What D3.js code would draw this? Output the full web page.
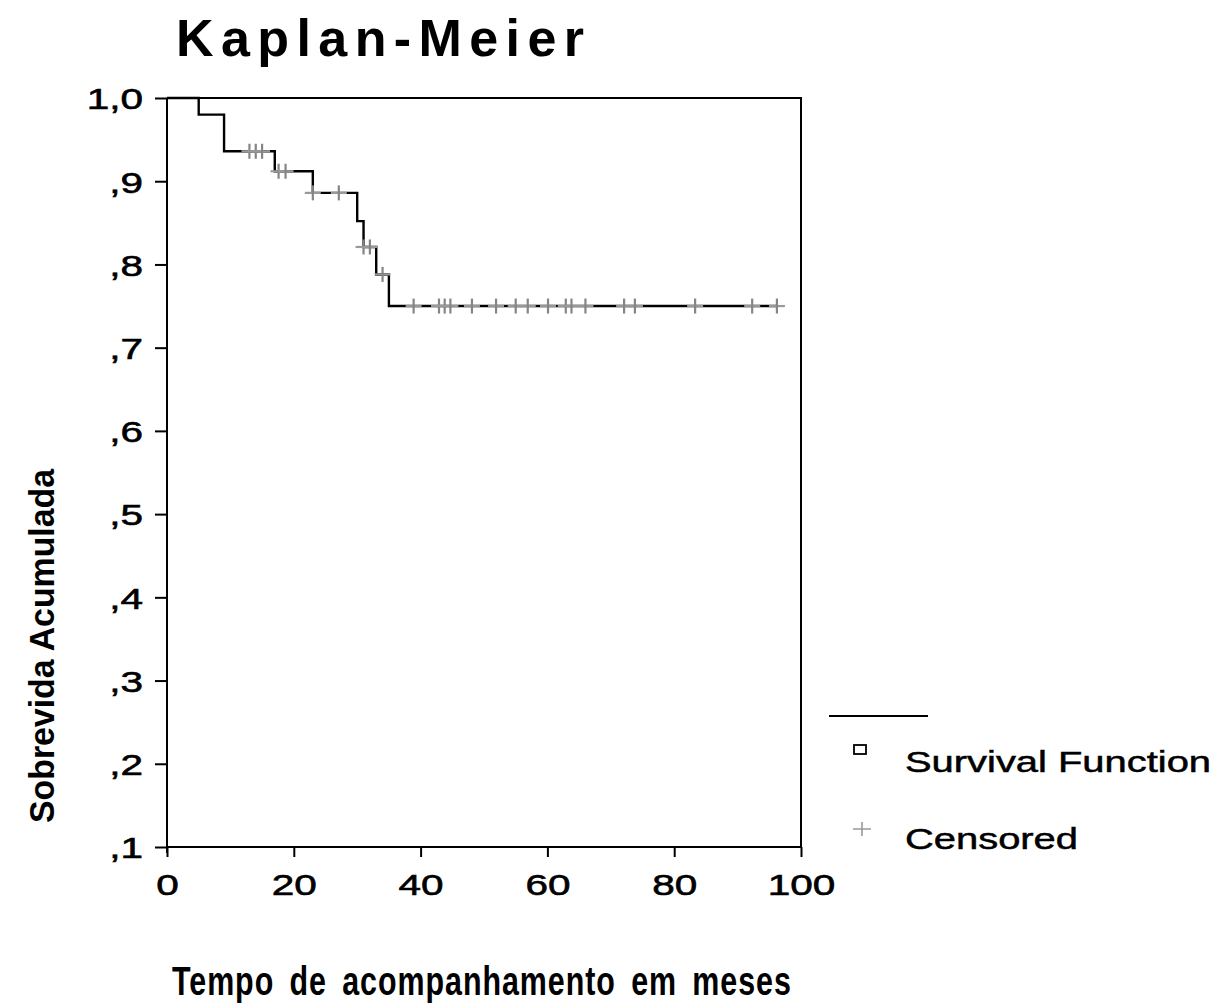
<!DOCTYPE html>
<html>
<head>
<meta charset="utf-8">
<script src="https://cdn.jsdelivr.net/npm/d3@7"></script>
<style>
  html, body { margin: 0; padding: 0; background: #fff; }
  svg { display: block; }
  text { font-family: "Liberation Sans", Arial, sans-serif; fill: #000; }
</style>
</head>
<body>
<svg id="chart" width="1223" height="1007"></svg>
<script>
// ---- data ----
const eventTimes = [0, 5, 9, 17, 23, 30, 31, 33, 35];
const survival   = [1.0, 0.980, 0.936, 0.912, 0.886, 0.852, 0.821, 0.788, 0.750];
const lastTime = 96.2;

const censorTimes = [13, 14, 15, 17.6, 18.7, 23, 27.1, 31, 32, 34,
  38.9, 42.9, 43.8, 44.7, 48.1, 51.9, 55.0, 56.9, 60.1, 62.9, 63.8, 66.0,
  72.1, 73.8, 83.3, 92.3, 96.2];
const censorSurv = [0.936, 0.936, 0.936, 0.912, 0.912, 0.886, 0.886, 0.821, 0.821, 0.788,
  0.75, 0.75, 0.75, 0.75, 0.75, 0.75, 0.75, 0.75, 0.75, 0.75, 0.75, 0.75,
  0.75, 0.75, 0.75, 0.75, 0.75];

const xTicks = [0, 20, 40, 60, 80, 100];
const xTickLabels = ["0", "20", "40", "60", "80", "100"];
const yTicks = [0.1, 0.2, 0.3, 0.4, 0.5, 0.6, 0.7, 0.8, 0.9, 1.0];
const yTickLabels = [",1", ",2", ",3", ",4", ",5", ",6", ",7", ",8", ",9", "1,0"];

const titleText = "Kaplan-Meier";
const xTitle = "Tempo de acompanhamento em meses";
const yTitle = "Sobrevida Acumulada";
const legendLabels = ["Survival Function", "Censored"];

// ---- layout ----
const svg = d3.select("#chart");
const L = 167, R = 801, T = 98, B = 847;
const STRETCH = 1.35;

const x = d3.scaleLinear().domain([0, 100]).range([L, R]);
const y = d3.scaleLinear().domain([0.1, 1.0]).range([B, T]);

function stretch(sel, factor) {
  sel.each(function() {
    const len = this.getComputedTextLength();
    d3.select(this).attr("textLength", len * factor).attr("lengthAdjust", "spacingAndGlyphs");
  });
}

// frame (top and right)
svg.append("path")
  .attr("d", `M${L},${T}H${R}V${B}`)
  .attr("fill", "none").attr("stroke", "#000").attr("stroke-width", 2);

// y axis
const yAxis = svg.append("g").attr("transform", `translate(${L},0)`)
  .call(d3.axisLeft(y).tickValues(yTicks).tickSize(12).tickPadding(12)
    .tickFormat((d, i) => yTickLabels[i]));
yAxis.select(".domain").attr("stroke", "#000").attr("stroke-width", 2)
  .attr("d", `M0,${T}V${B + 6}`);
yAxis.selectAll(".tick line").attr("stroke", "#000").attr("stroke-width", 2);
yAxis.selectAll(".tick text").attr("font-size", 30).attr("dy", "0.36em")
  .style("font-family", "Liberation Sans, Arial, sans-serif").attr("fill", "#000")
  .attr("stroke", "#000").attr("stroke-width", 0.6)
  .call(stretch, STRETCH);

// x axis
const xAxis = svg.append("g").attr("transform", `translate(0,${B})`)
  .call(d3.axisBottom(x).tickValues(xTicks).tickSize(10).tickPadding(17)
    .tickFormat((d, i) => xTickLabels[i]));
xAxis.select(".domain").attr("stroke", "#000").attr("stroke-width", 2)
  .attr("d", `M${L},0H${R}`);
xAxis.selectAll(".tick line").attr("stroke", "#000").attr("stroke-width", 2);
xAxis.selectAll(".tick text").attr("font-size", 30).attr("dy", "0.71em")
  .style("font-family", "Liberation Sans, Arial, sans-serif").attr("fill", "#000")
  .attr("stroke", "#000").attr("stroke-width", 0.6)
  .call(stretch, STRETCH);

// survival step line
const pts = eventTimes.map((t, i) => [t, survival[i]]);
pts.push([lastTime, survival[survival.length - 1]]);
svg.append("path")
  .attr("d", d3.line().x(d => x(d[0])).y(d => y(d[1])).curve(d3.curveStepAfter)(pts))
  .attr("fill", "none").attr("stroke", "#000").attr("stroke-width", 2.4);

// censored marks
const cg = svg.append("g");
censorTimes.forEach((t, i) => {
  const cx = x(t), cy = y(censorSurv[i]);
  cg.append("path").attr("d", `M${cx - 8},${cy}H${cx + 8}`)
    .attr("stroke", "#999").attr("stroke-width", 2.2);
  cg.append("path").attr("d", `M${cx},${cy - 7.5}V${cy + 7.5}`)
    .attr("stroke", "#858585").attr("stroke-width", 2.2);
});

// title
svg.append("text").attr("x", 176).attr("y", 56)
  .attr("font-size", 52).attr("font-weight", "bold")
  .attr("textLength", 408).attr("lengthAdjust", "spacing")
  .text(titleText);

// x title: condensed glyphs with letter spacing, fitted to the measured width
const xt = svg.append("text")
  .attr("font-size", 41).attr("font-weight", "bold")
  .style("letter-spacing", "1.3px").style("word-spacing", "8px")
  .text(xTitle);
const xtw = xt.node().getBBox().width;
xt.attr("transform", `translate(172,995) scale(${620 / xtw},1)`);

// y title
svg.append("text").attr("transform", "translate(54,646) rotate(-90)")
  .attr("text-anchor", "middle")
  .attr("font-size", 35).attr("font-weight", "bold")
  .attr("textLength", 354).attr("lengthAdjust", "spacingAndGlyphs")
  .text(yTitle);

// legend
svg.append("line").attr("x1", 829).attr("x2", 928).attr("y1", 716).attr("y2", 716)
  .attr("stroke", "#000").attr("stroke-width", 2);
svg.append("rect").attr("x", 854).attr("y", 745).attr("width", 12).attr("height", 9)
  .attr("fill", "none").attr("stroke", "#000").attr("stroke-width", 1.8);
svg.append("path").attr("d", "M853,829H871M862,822V836")
  .attr("stroke", "#999").attr("stroke-width", 1.6);
svg.append("text").attr("x", 905).attr("y", 772).attr("font-size", 30)
  .attr("stroke", "#000").attr("stroke-width", 0.5)
  .text(legendLabels[0]).call(stretch, 1.33);
svg.append("text").attr("x", 905).attr("y", 849).attr("font-size", 30)
  .attr("stroke", "#000").attr("stroke-width", 0.5)
  .text(legendLabels[1]).call(stretch, 1.33);
</script>
</body>
</html>
